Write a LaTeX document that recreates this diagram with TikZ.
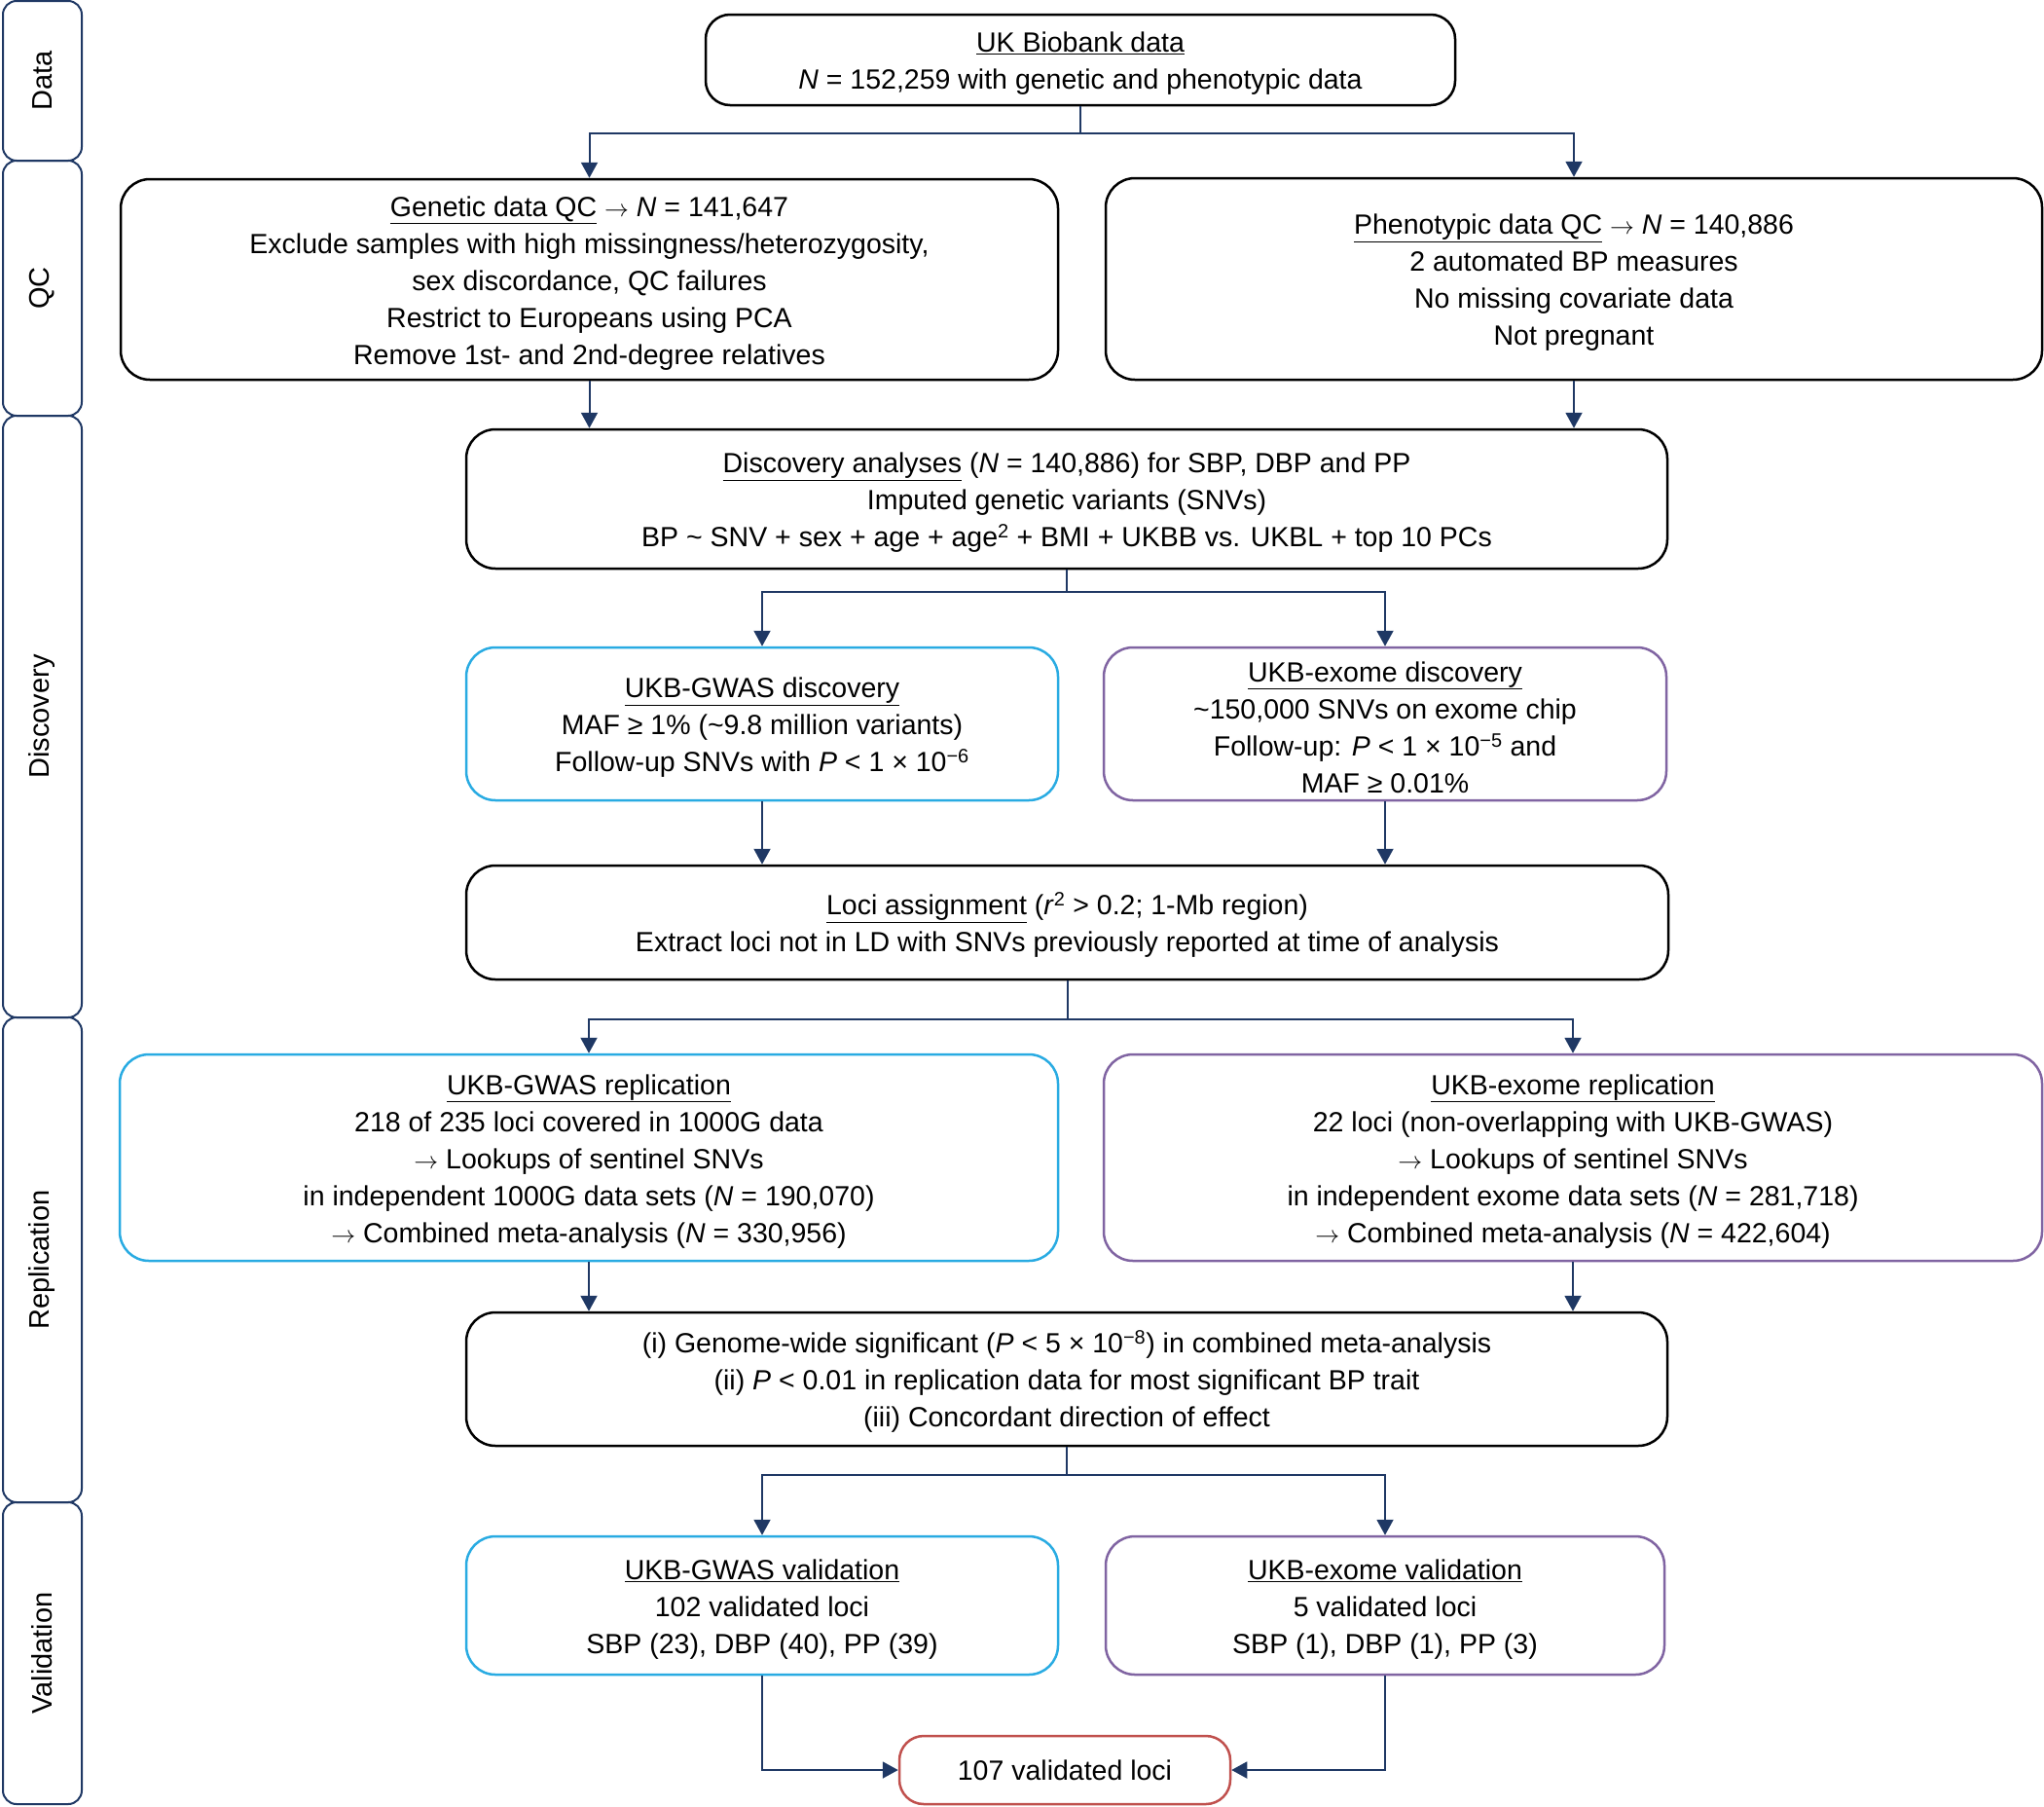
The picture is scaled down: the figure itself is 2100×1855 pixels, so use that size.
\documentclass[tikz,border=0pt]{standalone}
\usepackage{fontspec}
\setmainfont{Liberation Sans}
\usetikzlibrary{arrows.meta}
\definecolor{navy}{HTML}{1F3864}
\definecolor{bluebox}{HTML}{29ABE2}
\definecolor{purplebox}{HTML}{8064A2}
\definecolor{redbox}{HTML}{C0504D}
\newcommand{\ul}[1]{\rule{0pt}{28pt}\underline{#1}}
\newcommand{\tl}{\rule{0pt}{28pt}}
\newcommand{\supm}[1]{\textsuperscript{−#1}}
\newcommand{\rarr}{\ensuremath{\rightarrow}}
\begin{document}
\begin{tikzpicture}[x=1pt,y=-1pt,
  box/.style={draw=black, line width=2.5pt, rounded corners=30pt, align=center, inner sep=0pt, font=\fontsize{28.5}{38}\selectfont},
  bluestyle/.style={box, draw=bluebox},
  purplestyle/.style={box, draw=purplebox},
  redstyle/.style={box, draw=redbox, rounded corners=25pt},
  lane/.style={draw=navy, line width=2pt, rounded corners=14pt, rotate=90, inner sep=0pt, font=\fontsize{29}{32}\selectfont},
  conn/.style={draw=navy, line width=2pt, -{Triangle[length=16pt,width=17pt]}}
]
\useasboundingbox (0,0) rectangle (2100,1855);

% lanes
\node[lane, minimum width=164pt, minimum height=81pt] (ldata) at (43.5,83) {Data};
\node[lane, minimum width=262pt, minimum height=81pt] (lqc) at (43.5,296) {QC};
\node[lane, minimum width=618pt, minimum height=81pt] (ldisc) at (43.5,736) {Discovery};
\node[lane, minimum width=498pt, minimum height=81pt] (lrep) at (43.5,1294) {Replication};
\node[lane, minimum width=310pt, minimum height=81pt] (lval) at (43.5,1698) {Validation};

% boxes
\node[box, rounded corners=25pt, minimum width=770pt, minimum height=93pt] (ukb) at (1110,61.5)
  {\ul{UK Biobank data}\\\textit{N} = 152,259 with genetic and phenotypic data};
\node[box, minimum width=963pt, minimum height=206pt] (gqc) at (605.5,287)
  {\ul{Genetic data QC} \rarr{} \textit{N} = 141,647\\
   Exclude samples with high missingness/heterozygosity,\\
   sex discordance, QC failures\\
   Restrict to Europeans using PCA\\
   Remove 1st- and 2nd-degree relatives};
\node[box, minimum width=962pt, minimum height=207pt] (pqc) at (1617,286.5)
  {\ul{Phenotypic data QC} \rarr{} \textit{N} = 140,886\\
   2 automated BP measures\\
   No missing covariate data\\
   Not pregnant};
\node[box, minimum width=1234pt, minimum height=143pt] (disc) at (1096,512.5)
  {\ul{Discovery analyses} (\textit{N} = 140,886) for SBP, DBP and PP\\
   Imputed genetic variants (SNVs)\\
   BP \textasciitilde{} SNV + sex + age + age\textsuperscript{2} + BMI + UKBB vs. UKBL + top 10 PCs};
\node[bluestyle, minimum width=608pt, minimum height=157pt] (gdisc) at (783,743.5)
  {\ul{UKB-GWAS discovery}\\
   MAF ≥ 1\% (\textasciitilde9.8 million variants)\\
   Follow-up SNVs with \textit{P} < 1 × 10\supm{6}};
\node[purplestyle, minimum width=578pt, minimum height=157pt] (edisc) at (1423,743.5)
  {\ul{UKB-exome discovery}\\
   \textasciitilde150,000 SNVs on exome chip\\
   Follow-up: \textit{P} < 1 × 10\supm{5} and\\
   MAF ≥ 0.01\%};
\node[box, minimum width=1235pt, minimum height=117pt] (loci) at (1096.5,947.5)
  {\ul{Loci assignment} (\textit{r}\textsuperscript{2} > 0.2; 1-Mb region)\\
   Extract loci not in LD with SNVs previously reported at time of analysis};
\node[bluestyle, minimum width=964pt, minimum height=212pt] (grep) at (605,1189)
  {\ul{UKB-GWAS replication}\\
   218 of 235 loci covered in 1000G data\\
   \rarr{} Lookups of sentinel SNVs\\
   in independent 1000G data sets (\textit{N} = 190,070)\\
   \rarr{} Combined meta-analysis (\textit{N} = 330,956)};
\node[purplestyle, minimum width=964pt, minimum height=212pt] (erep) at (1616,1189)
  {\ul{UKB-exome replication}\\
   22 loci (non-overlapping with UKB-GWAS)\\
   \rarr{} Lookups of sentinel SNVs\\
   in independent exome data sets (\textit{N} = 281,718)\\
   \rarr{} Combined meta-analysis (\textit{N} = 422,604)};
\node[box, minimum width=1234pt, minimum height=137pt] (crit) at (1096,1416.5)
  {\tl(i) Genome-wide significant (\textit{P} < 5 × 10\supm{8}) in combined meta-analysis\\
   (ii) \textit{P} < 0.01 in replication data for most significant BP trait\\
   (iii) Concordant direction of effect};
\node[bluestyle, minimum width=608pt, minimum height=142pt] (gval) at (783,1649)
  {\ul{UKB-GWAS validation}\\
   102 validated loci\\
   SBP (23), DBP (40), PP (39)};
\node[purplestyle, minimum width=574pt, minimum height=142pt] (evali) at (1423,1649)
  {\ul{UKB-exome validation}\\
   5 validated loci\\
   SBP (1), DBP (1), PP (3)};
\node[redstyle, minimum width=340pt, minimum height=70pt] (final) at (1094,1818)
  {107 validated loci};

% connectors
\coordinate (j1) at (1110,137);
\coordinate (j2) at (1096,608);
\coordinate (j3) at (1096.5,1047);
\coordinate (j4) at (1096,1515);

\draw[conn] (ukb.south) -- (j1) -| (gqc.north);
\draw[conn] (j1) -| (pqc.north);
\draw[conn] (gqc.south) -- (gqc.south |- disc.north);
\draw[conn] (pqc.south) -- (pqc.south |- disc.north);
\draw[conn] (disc.south) -- (j2) -| (gdisc.north);
\draw[conn] (j2) -| (edisc.north);
\draw[conn] (gdisc.south) -- (gdisc.south |- loci.north);
\draw[conn] (edisc.south) -- (edisc.south |- loci.north);
\draw[conn] (loci.south) -- (j3) -| (grep.north);
\draw[conn] (j3) -| (erep.north);
\draw[conn] (grep.south) -- (grep.south |- crit.north);
\draw[conn] (erep.south) -- (erep.south |- crit.north);
\draw[conn] (crit.south) -- (j4) -| (gval.north);
\draw[conn] (j4) -| (evali.north);
\draw[conn] (gval.south) |- (final.west);
\draw[conn] (evali.south) |- (final.east);
\end{tikzpicture}
\end{document}
